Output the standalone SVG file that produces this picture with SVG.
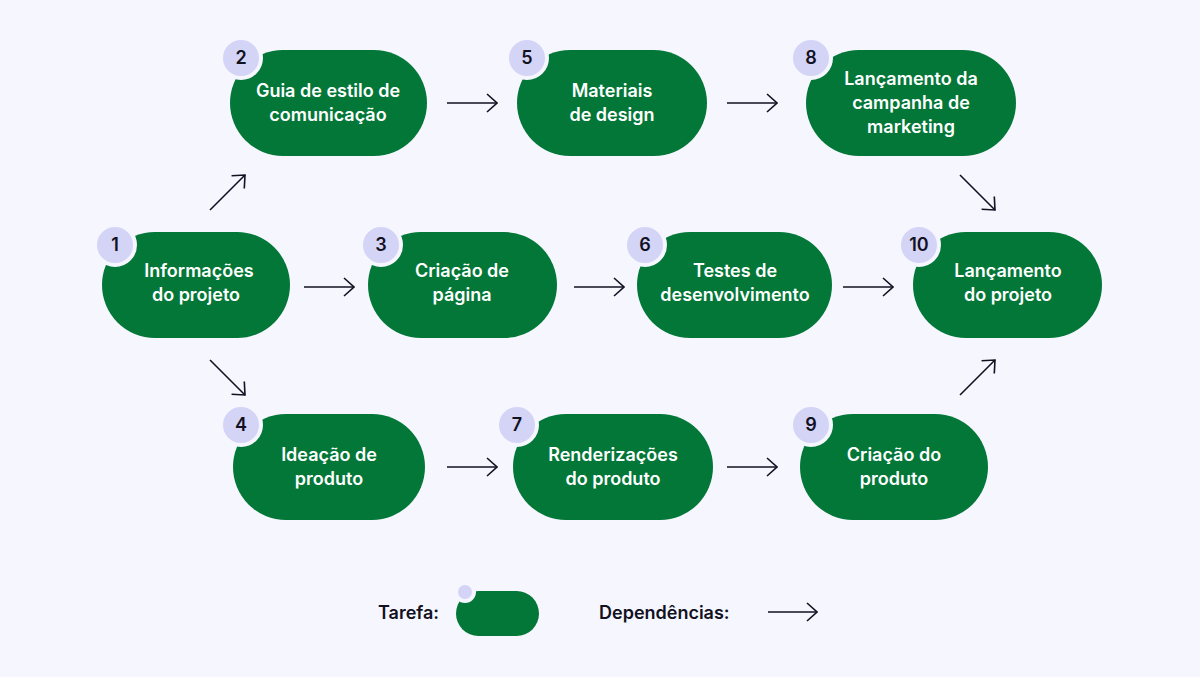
<svg xmlns="http://www.w3.org/2000/svg" width="1200" height="677" viewBox="0 0 1200 677">
<style>
.n{fill:#027737}
.b{fill:#d4d4f7;stroke:#f5f6fe;stroke-width:4}
.t{font-family:Inter,"Liberation Sans",sans-serif;font-weight:600;font-size:18px;fill:#fff;text-anchor:middle}
.bt{font-family:Inter,"Liberation Sans",sans-serif;font-weight:600;font-size:18px;fill:#111122;text-anchor:middle}
.l{font-family:Inter,"Liberation Sans",sans-serif;font-weight:600;font-size:18px;fill:#111122}
.c{stroke:#111122;stroke-width:1.6;fill:none}
</style>
<defs><marker id="a" viewBox="0 0 12 20" refX="11" refY="10" markerWidth="12" markerHeight="20" markerUnits="userSpaceOnUse" orient="auto"><path d="M1 1L11 10L1 19" fill="none" stroke="#111122" stroke-width="1.6"/></marker></defs>
<rect width="1200" height="677" fill="#f5f6fe"/>
<g id="connectors" class="c" marker-end="url(#a)">
<line x1="447" y1="103" x2="497" y2="103"/>
<line x1="727" y1="103" x2="777" y2="103"/>
<line x1="304" y1="287" x2="354" y2="287"/>
<line x1="574" y1="287" x2="624" y2="287"/>
<line x1="843" y1="287" x2="893" y2="287"/>
<line x1="447" y1="467" x2="497" y2="467"/>
<line x1="727" y1="467" x2="777" y2="467"/>
<line x1="210" y1="210" x2="245" y2="175"/>
<line x1="210" y1="360" x2="245" y2="395"/>
<line x1="960" y1="175" x2="995" y2="210"/>
<line x1="960" y1="395" x2="995" y2="360"/>
<line x1="768" y1="612" x2="817" y2="612"/>
</g>
<g id="n1"><rect class="n" x="102" y="232" width="188" height="106" rx="53"/><circle class="b" cx="115" cy="245" r="20"/><text class="bt" x="115" y="251">1</text><text class="t" x="199" y="277">Informações</text><text class="t" x="196" y="301">do projeto</text></g>
<g id="n2"><rect class="n" x="230" y="50" width="197" height="106" rx="53"/><circle class="b" cx="241" cy="58" r="20"/><text class="bt" x="241" y="64">2</text><text class="t" x="328" y="97">Guia de estilo de</text><text class="t" x="328" y="121">comunicação</text></g>
<g id="n5"><rect class="n" x="517" y="50" width="190" height="106" rx="53"/><circle class="b" cx="527" cy="58" r="20"/><text class="bt" x="527" y="64">5</text><text class="t" x="612" y="97">Materiais</text><text class="t" x="612" y="121">de design</text></g>
<g id="n8"><rect class="n" x="806" y="50" width="210" height="106" rx="53"/><circle class="b" cx="811" cy="58" r="20"/><text class="bt" x="811" y="64">8</text><text class="t" x="911" y="85">Lançamento da</text><text class="t" x="911" y="109">campanha de</text><text class="t" x="911" y="133">marketing</text></g>
<g id="n3"><rect class="n" x="368" y="232" width="189" height="106" rx="53"/><circle class="b" cx="381" cy="245" r="20"/><text class="bt" x="381" y="251">3</text><text class="t" x="462" y="277">Criação de</text><text class="t" x="462" y="301">página</text></g>
<g id="n6"><rect class="n" x="637" y="232" width="195" height="106" rx="53"/><circle class="b" cx="645" cy="245" r="20"/><text class="bt" x="645" y="251">6</text><text class="t" x="735" y="277">Testes de</text><text class="t" x="735" y="301">desenvolvimento</text></g>
<g id="n10"><rect class="n" x="913" y="232" width="189" height="106" rx="53"/><circle class="b" cx="919" cy="245" r="20"/><text class="bt" x="919" y="251">10</text><text class="t" x="1008" y="277">Lançamento</text><text class="t" x="1008" y="301">do projeto</text></g>
<g id="n4"><rect class="n" x="233" y="414" width="192" height="106" rx="53"/><circle class="b" cx="241" cy="425" r="20"/><text class="bt" x="241" y="431">4</text><text class="t" x="329" y="461">Ideação de</text><text class="t" x="329" y="485">produto</text></g>
<g id="n7"><rect class="n" x="513" y="414" width="200" height="106" rx="53"/><circle class="b" cx="517" cy="425" r="20"/><text class="bt" x="517" y="431">7</text><text class="t" x="613" y="461">Renderizações</text><text class="t" x="613" y="485">do produto</text></g>
<g id="n9"><rect class="n" x="800" y="414" width="188" height="106" rx="53"/><circle class="b" cx="811" cy="425" r="20"/><text class="bt" x="811" y="431">9</text><text class="t" x="894" y="461">Criação do</text><text class="t" x="894" y="485">produto</text></g>
<g id="legend"><text class="l" x="378" y="619">Tarefa:</text><rect class="n" x="456" y="591" width="83" height="45" rx="22.5"/><circle class="b" cx="465" cy="592" r="9" stroke-width="2"/><text class="l" x="599" y="619">Dependências:</text></g>
</svg>
